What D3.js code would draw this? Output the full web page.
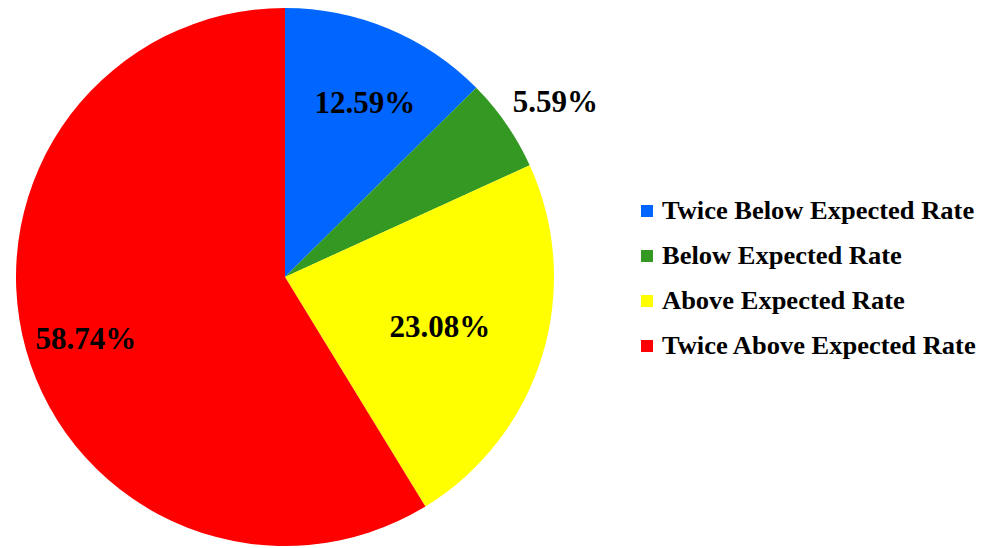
<!DOCTYPE html>
<html>
<head>
<meta charset="utf-8">
<script src="https://cdn.jsdelivr.net/npm/d3@7"></script>
<style>
  html, body { margin: 0; padding: 0; background: #fff; }
  svg { display: block; }
</style>
</head>
<body>
<svg id="chart" width="981" height="548"></svg>
<script>
// Share of rates, in percent
const categories = ["Twice Below Expected Rate", "Below Expected Rate", "Above Expected Rate", "Twice Above Expected Rate"];
const values = [12.59, 5.59, 23.08, 58.74];
const labels = ["12.59%", "5.59%", "23.08%", "58.74%"];
const colors = ["#0066FF", "#339922", "#FFFF00", "#FF0000"];

const svg = d3.select("#chart");
const cx = 285, cy = 277, radius = 269;

const pie = d3.pie().sort(null).value(d => d.value);
const data = categories.map((c, i) => ({ name: c, value: values[i], label: labels[i], color: colors[i] }));
const arcs = pie(data);

const arc = d3.arc().innerRadius(0).outerRadius(radius);

const g = svg.append("g").attr("transform", `translate(${cx},${cy})`);

g.selectAll("path")
  .data(arcs)
  .join("path")
  .attr("d", arc)
  .attr("fill", d => d.data.color);

// Label placement: distance from the centre along the slice bisector,
// plus a small nudge (the thin slice's label sits outside the pie)
const labelDist = [192, 326, 162, 212];
const labelNudge = [[6, 3], [2, 10], [0, 2], [5, 4]];
g.selectAll("text")
  .data(arcs)
  .join("text")
  .attr("transform", (d, i) => {
    const a = (d.startAngle + d.endAngle) / 2;
    const r = labelDist[i];
    const [nx, ny] = labelNudge[i];
    return `translate(${Math.sin(a) * r + nx},${-Math.cos(a) * r + ny})`;
  })
  .attr("text-anchor", "middle")
  .attr("dy", "0.33em")
  .attr("font-family", "'Liberation Serif', 'Times New Roman', serif")
  .attr("font-weight", "bold")
  .attr("font-size", 31)
  .attr("fill", "#000")
  .text(d => d.data.label);

// Legend
const legend = svg.append("g").attr("transform", "translate(641,211)");
const rowH = 45;
const rows = legend.selectAll("g")
  .data(data)
  .join("g")
  .attr("transform", (d, i) => `translate(0,${i * rowH})`);

rows.append("rect")
  .attr("x", 0).attr("y", -6)
  .attr("width", 12).attr("height", 12)
  .attr("fill", d => d.color);

rows.append("text")
  .attr("transform", "translate(21,0) scale(1.06,1)")
  .attr("dy", "0.33em")
  .attr("font-family", "'Liberation Serif', 'Times New Roman', serif")
  .attr("font-weight", "bold")
  .attr("font-size", 25)
  .attr("fill", "#000")
  .text(d => d.name);
</script>
</body>
</html>
